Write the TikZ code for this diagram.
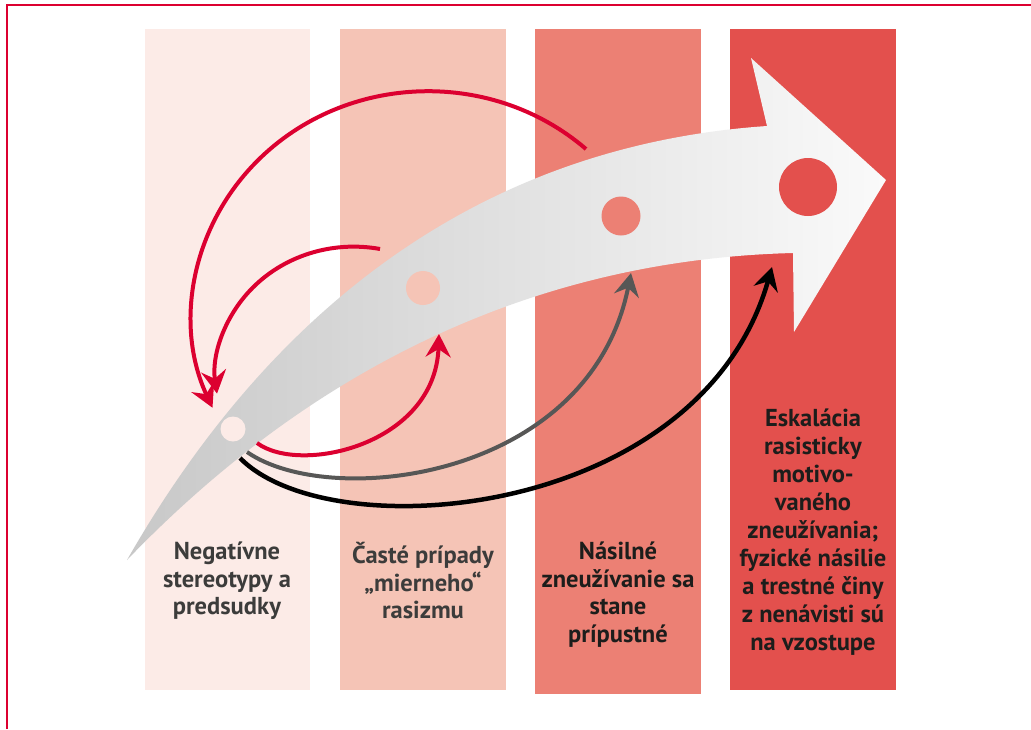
\documentclass[tikz,border=0pt]{standalone}
\usepackage{fontspec}
\setmainfont{PT Sans}
\usetikzlibrary{arrows.meta}
\definecolor{colA}{HTML}{FCEBE7}
\definecolor{colB}{HTML}{F5C4B6}
\definecolor{colC}{HTML}{EC8074}
\definecolor{colD}{HTML}{E3504D}
\definecolor{redline}{HTML}{DC0030}
\definecolor{grayline}{HTML}{575756}
\definecolor{txtgray}{HTML}{3C3C3B}
\definecolor{txtdark}{HTML}{1D1D1B}
\definecolor{arrowdark}{HTML}{C8C8C8}
\definecolor{arrowlight}{HTML}{FAFAFA}
\begin{document}
\begin{tikzpicture}[x=1pt,y=-1pt,
  lbl/.style={align=center, font=\fontsize{24.5}{27.5}\selectfont\bfseries, anchor=north, inner sep=0pt},
  conn/.style={line width=4pt, -{Stealth[length=23pt,width=25pt,inset=8pt]}},
  hole/.style={circle, inner sep=0pt, minimum size=#1}
]
\useasboundingbox (0,0) rectangle (1031,729);
\fill[white] (0,0) rectangle (1031,729);
% frame
\draw[redline, line width=1.2pt] (7,729) -- (7,5) -- (1031,5);
% columns
\fill[colA] (145,29) rectangle (310,690);
\fill[colB] (340,29) rectangle (506,690);
\fill[colC] (535,29) rectangle (701,694);
\fill[colD] (730,29) rectangle (896,690);
% big arrow
\shade[left color=arrowdark, right color=arrowlight]
  (127,560) .. controls (230,380) and (420,150) .. (767,126)
  -- (751,58) -- (886,180) -- (794,332) -- (793,253)
  .. controls (520,260) and (300,380) .. (127,560) -- cycle;
% holes
\node[hole=25pt, fill=colA] (h1) at (233,429) {};
\node[hole=34pt, fill=colB] (h2) at (423,288) {};
\node[hole=39pt, fill=colC] (h3) at (621,216) {};
\node[hole=58pt, fill=colD] (h4) at (808,187) {};
% connectors
\coordinate (r1s) at (586,149);
\coordinate (r2s) at (380,249);
\coordinate (r3s) at (257,443);
\coordinate (r3e) at (439,334);
\coordinate (gs) at (247,452);
\coordinate (ge) at (631,273);
\coordinate (bs) at (240,458);
\coordinate (be) at (772,267);
\draw[conn, redline] (r1s) arc[start angle=-48, end angle=-204, x radius=236, y radius=225];
\draw[conn, redline] (r2s) arc[start angle=-79, end angle=-188, x radius=138, y radius=129];
\draw[conn, redline] (r3s) .. controls (300,475) and (435,445) .. (r3e);
\draw[conn, grayline] (gs) .. controls (330,510) and (590,480) .. (ge);
\draw[conn, black, line width=4.5pt] (bs) .. controls (330,550) and (700,520) .. (be);
% labels
\node[lbl, text=txtgray] (l1) at (227,542) {Negatívne\\stereotypy a\\predsudky};
\node[lbl, text=txtgray] (l2) at (423,542) {Časté prípady\\„mierneho“\\rasizmu};
\node[lbl, text=txtdark] (l3) at (618,542) {Násilné\\zneužívanie sa\\stane\\prípustné};
\node[lbl, text=txtdark, font=\fontsize{24.5}{28}\selectfont\bfseries] (l4) at (813,409) {Eskalácia\\rasisticky\\motivo-\\vaného\\zneužívania;\\fyzické násilie\\a trestné činy\\z nenávisti sú\\na vzostupe};
\end{tikzpicture}
\end{document}
